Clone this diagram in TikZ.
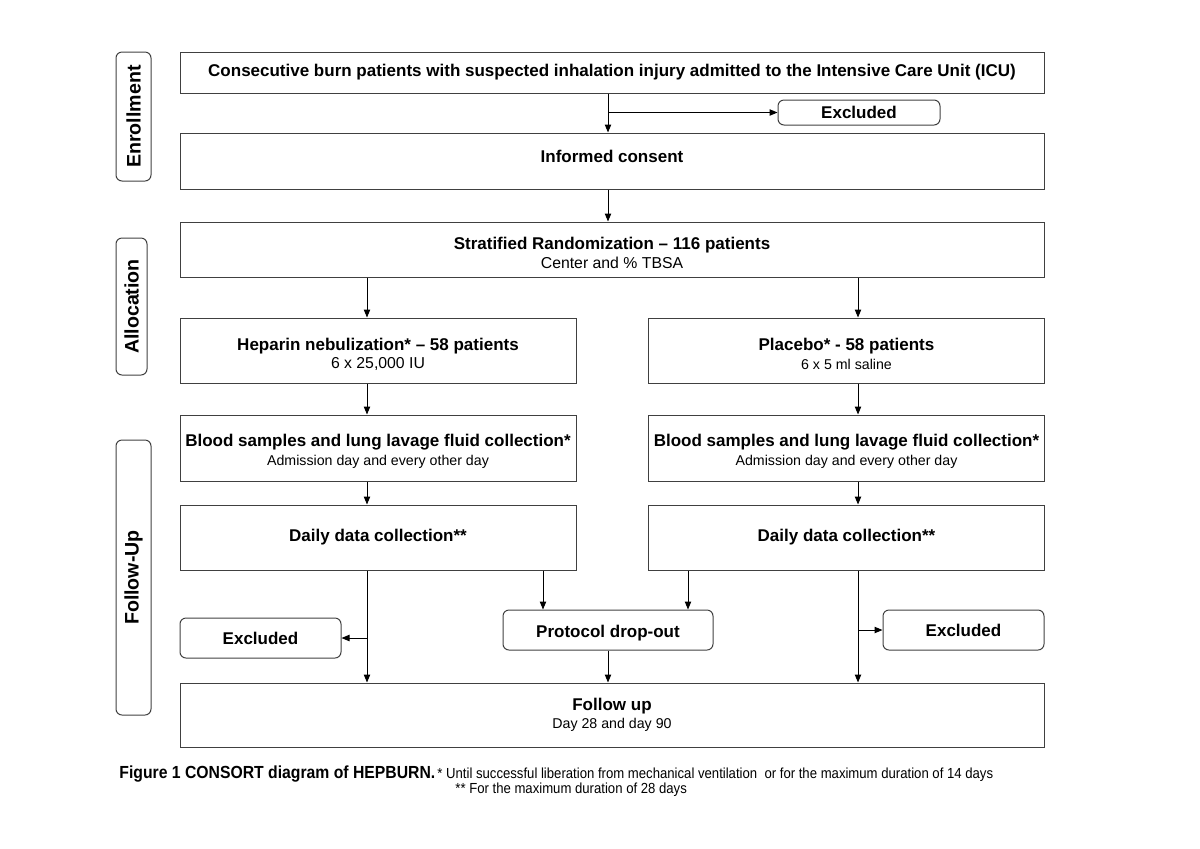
\documentclass[tikz,border=0pt]{standalone}
\usepackage{fontspec}
\setmainfont{Liberation Sans}
\newfontfamily\narrowfont[FakeStretch=0.9]{Liberation Sans}
\usetikzlibrary{arrows.meta}
\newcommand{\subtxt}{\fontsize{7.1}{8}\selectfont\mdseries}
\newcommand{\subbig}{\fontsize{7.9}{8.5}\selectfont\mdseries}
\newcommand{\tstrut}{\rule{0pt}{9.5pt}}

\begin{document}
\begin{tikzpicture}[x=0.5pt, y=-0.5pt,
    box/.style={draw=black!75, line width=0.5pt, align=center, inner sep=1pt, font=\fontsize{8.5}{9.5}\selectfont\bfseries},
    rbox/.style={box, rounded corners=3pt},
    side/.style={draw=black!75, line width=0.5pt, rounded corners=3pt, rotate=90, font=\fontsize{9.8}{11}\selectfont\bfseries},
    arr/.style={-{Triangle[length=4pt,width=3.2pt]}, line width=0.5pt}]
    \useasboundingbox (0,0) rectangle (1200,848);

    \node[side, minimum width=64.5pt, minimum height=17.5pt] (enr) at (133.5,116.5) {Enrollment};
    \node[side, minimum width=68.5pt, minimum height=15.5pt] (alloc) at (131.5,306.5) {Allocation};
    \node[side, minimum width=137.5pt, minimum height=17.5pt] (fu) at (133.5,577.5) {Follow-Up};

    \node[box, minimum width=432pt, minimum height=20.5pt] (consec) at (612,72.5) {Consecutive burn patients with suspected inhalation injury admitted to the Intensive Care Unit (ICU)};
    \node[rbox, minimum width=81pt, minimum height=12.5pt] (exc1) at (859,112.5) {Excluded};
    \node[box, minimum width=432pt, minimum height=28pt, text depth=5pt] (consent) at (612,161) {Informed consent};
    \node[box, minimum width=432pt, minimum height=27.5pt] (strat) at (612,249.5) {\tstrut Stratified Randomization -- 116 patients\\[0pt]{\subbig Center and \% TBSA}};
    \node[box, minimum width=198pt, minimum height=32.5pt] (hep) at (378,350.5) {\tstrut Heparin nebulization* -- 58 patients\\[-0.5pt]{\subbig 6 x 25,000 IU}};
    \node[box, minimum width=198pt, minimum height=32.5pt] (plac) at (846.5,350.5) {\tstrut Placebo* - 58 patients\\[0pt]{\subtxt 6 x 5 ml saline}};
    \node[box, minimum width=198pt, minimum height=33pt] (bloodL) at (378,448) {\tstrut Blood samples and lung lavage fluid collection*\\[0pt]{\subtxt Admission day and every other day}};
    \node[box, minimum width=198pt, minimum height=33pt] (bloodR) at (846.5,448) {\tstrut Blood samples and lung lavage fluid collection*\\[0pt]{\subtxt Admission day and every other day}};
    \node[box, minimum width=198pt, minimum height=32.5pt] (dailyL) at (378,537.5) {Daily data collection**};
    \node[box, minimum width=198pt, minimum height=32.5pt] (dailyR) at (846.5,537.5) {Daily data collection**};
    \node[rbox, minimum width=80.5pt, minimum height=20pt] (excL) at (260.5,638) {Excluded};
    \node[rbox, minimum width=105pt, minimum height=20pt] (drop) at (608,630) {\tstrut Protocol drop-out};
    \node[rbox, minimum width=80.5pt, minimum height=20pt] (excR) at (963.5,630) {Excluded};
    \node[box, minimum width=432pt, minimum height=32pt] (fup) at (612,715) {Follow up\\[-0.5pt]{\subtxt Day 28 and day 90}};

    \node[anchor=base west, inner sep=0pt, font=\narrowfont\fontsize{8.75}{10}\selectfont\bfseries] (cap) at (119,778) {Figure 1 CONSORT diagram of HEPBURN.};
    \node[anchor=base west, inner sep=0pt, font=\narrowfont\fontsize{7.3}{8}\selectfont] (note1) at (437,778) {* Until successful liberation from mechanical ventilation ~or for the maximum duration of 14 days};
    \node[anchor=base west, inner sep=0pt, font=\narrowfont\fontsize{7.3}{8}\selectfont] (note2) at (455,793) {** For the maximum duration of 28 days};

    \coordinate (colL) at (367,0);
    \coordinate (colR) at (858,0);
    \coordinate (dl) at (543,0);
    \coordinate (dr) at (688,0);

    \draw[arr] (consec.south -| drop) -- (consent.north -| drop);
    \draw[arr] (exc1.west -| drop) -- (exc1.west);
    \draw[arr] (consent.south -| drop) -- (strat.north -| drop);
    \draw[arr] (strat.south -| colL) -- (hep.north -| colL);
    \draw[arr] (strat.south -| colR) -- (plac.north -| colR);
    \draw[arr] (hep.south -| colL) -- (bloodL.north -| colL);
    \draw[arr] (plac.south -| colR) -- (bloodR.north -| colR);
    \draw[arr] (bloodL.south -| colL) -- (dailyL.north -| colL);
    \draw[arr] (bloodR.south -| colR) -- (dailyR.north -| colR);
    \draw[arr] (dailyL.south -| colL) -- (fup.north -| colL);
    \draw[arr] (excL.east -| colL) -- (excL.east);
    \draw[arr] (dailyL.south -| dl) -- (drop.north -| dl);
    \draw[arr] (dailyR.south -| dr) -- (drop.north -| dr);
    \draw[arr] (drop.south) -- (fup.north -| drop);
    \draw[arr] (dailyR.south -| colR) -- (fup.north -| colR);
    \draw[arr] (excR.west -| colR) -- (excR.west);
\end{tikzpicture}
\end{document}
